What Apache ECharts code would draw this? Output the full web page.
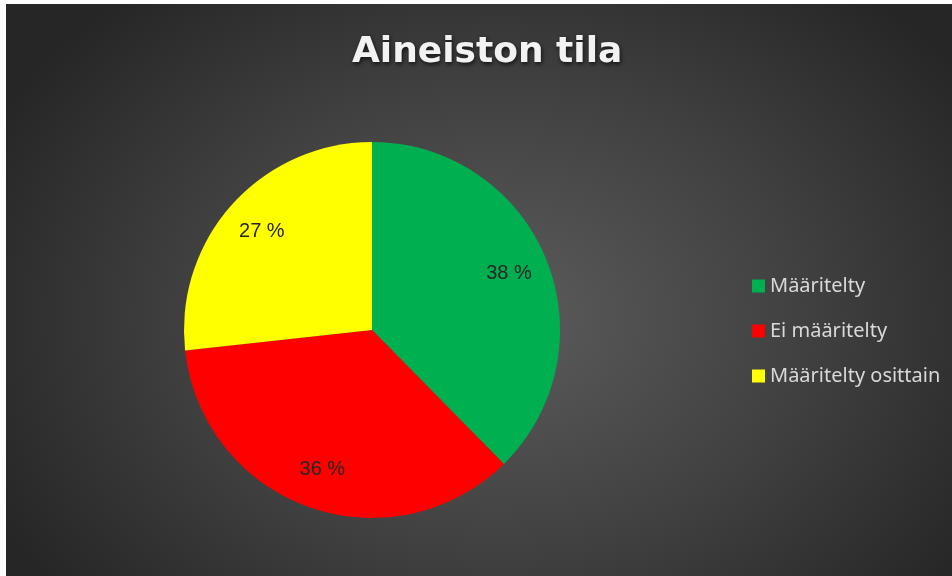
<!DOCTYPE html>
<html>
<head>
<meta charset="utf-8">
<script src="https://cdn.jsdelivr.net/npm/echarts@6/dist/echarts.min.js"></script>
<style>
html,body{margin:0;padding:0;background:#ffffff;width:952px;height:576px;overflow:hidden;}
#chart{position:absolute;left:6px;top:4px;width:946px;height:572px;
background:radial-gradient(ellipse 60% 75% at 52% 55%, #5c5c5c 0%, #404040 55%, #262626 100%);}
</style>
</head>
<body>
<div id="chart"></div>
<script>
const titleText = 'Aineiston tila';
const categories = ['Määritelty', 'Ei määritelty', 'Määritelty osittain'];
const values = [38, 36, 27];
const colors = ['#00B050', '#FF0000', '#FFFF00'];

const pieData = categories.map((name, i) => ({ name: name, value: values[i], itemStyle: { color: colors[i] } }));
const labelData = categories.map((name, i) => ({ name: name, value: values[i] }));

const chart = echarts.init(document.getElementById('chart'), null, { renderer: 'canvas' });
chart.setOption({
  backgroundColor: 'transparent',
  animation: false,
  title: {
    text: titleText,
    left: 341,
    top: 26,
    textStyle: {
      color: '#f2f2f2',
      fontFamily: 'DejaVu Sans',
      fontWeight: 'bold',
      fontSize: 36,
      textShadowColor: 'rgba(0,0,0,0.7)',
      textShadowBlur: 4,
      textShadowOffsetX: 1,
      textShadowOffsetY: 2
    }
  },
  legend: {
    orient: 'vertical',
    left: 741,
    top: 267,
    itemWidth: 13,
    itemHeight: 13,
    itemGap: 25,
    icon: 'rect',
    data: categories,
    textStyle: { color: '#d9d9d9', fontSize: 20, fontFamily: 'Noto Sans' }
  },
  series: [
    {
      type: 'pie',
      center: [366, 326],
      radius: [0, 188],
      startAngle: 90,
      clockwise: true,
      label: { show: false },
      labelLine: { show: false },
      emphasis: { disabled: true },
      data: pieData
    },
    {
      type: 'pie',
      center: [366, 326],
      radius: [102, 188],
      startAngle: 90,
      clockwise: true,
      silent: true,
      legendHoverLink: false,
      itemStyle: { color: 'transparent' },
      label: {
        show: true,
        position: 'inside',
        formatter: '{c}\u00a0%',
        color: '#262626',
        fontSize: 20,
        fontFamily: 'Liberation Sans'
      },
      labelLine: { show: false },
      emphasis: { disabled: true },
      data: labelData
    }
  ]
});
</script>
</body>
</html>
